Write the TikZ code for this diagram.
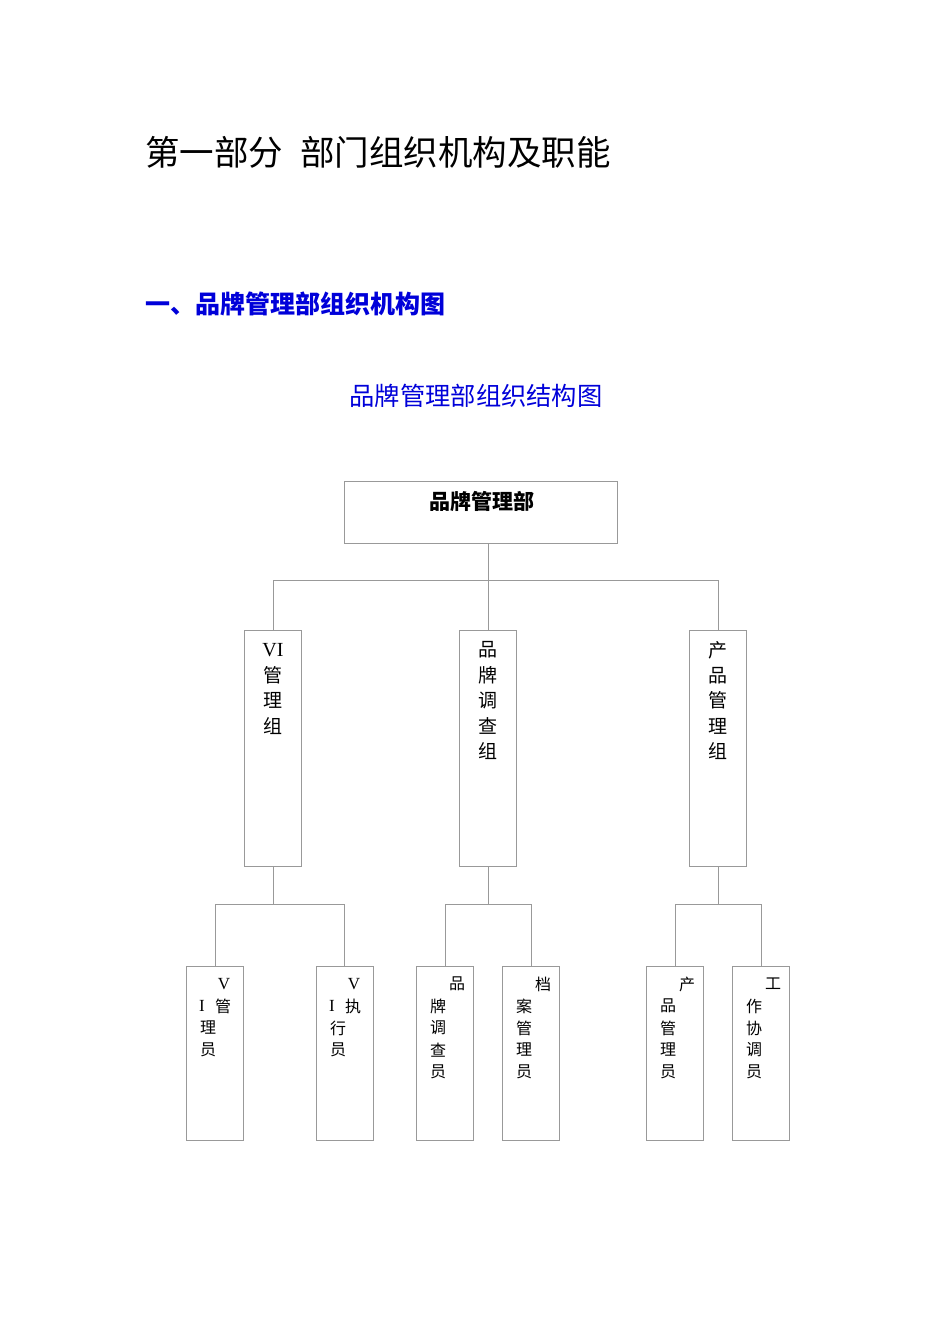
\documentclass[tikz,border=0pt]{standalone}
\usepackage{fontspec}
\setmainfont{Liberation Serif}
\newfontfamily\cjk{Noto Sans CJK SC}
\begin{document}
\begin{tikzpicture}[x=1pt,y=-1pt,
  bx/.style={draw=black!40,line width=0.7pt},
  ln/.style={draw=black!40,line width=0.7pt},
  t/.style={inner sep=0pt,font=\cjk\fontsize{19}{19}\selectfont},
  s/.style={inner sep=0pt,font=\cjk\fontsize{16}{16}\selectfont}]
\useasboundingbox (0,0) rectangle (950,1344);
\node[inner sep=0pt,anchor=west,font=\cjk\fontsize{34.5}{34.5}\selectfont] (title) at (145,152) {第一部分\hspace{0.5em}部门组织机构及职能};
\node[inner sep=0pt,anchor=west,text=blue!85!black,font=\cjk\bfseries\fontsize{25}{25}\selectfont] (h1) at (145,304) {一、品牌管理部组织机构图};
\node[inner sep=0pt,text=blue!85!black,font=\cjk\fontsize{25.3}{25.3}\selectfont] (h2) at (476,396) {品牌管理部组织结构图};
% top
\draw[bx] (344,481) rectangle (617,543);
\coordinate (topb) at (488,543);
\node[inner sep=0pt,font=\cjk\bfseries\fontsize{21}{21}\selectfont] (top) at (482,501) {品牌管理部};
\draw[ln] (topb) -- (488,580);
\draw[ln] (273,630) -- (273,580) -- (718,580) -- (718,630);
\draw[ln] (488,580) -- (488,630);
% middle boxes
\foreach \l/\c in {244/273,459/488,689/718}{
  \draw[bx] (\l,630) rectangle (\l+57,866);
  \draw[ln] (\c,866) -- (\c,904);
}
\node[t,font=\fontsize{20}{20}\selectfont] (m1a) at (273,650) {VI};
\foreach \ch [count=\i] in {管,理,组} \node[t] at (273,650+25.3*\i) {\ch};
\foreach \ch [count=\i from 0] in {品,牌,调,查,组} \node[t] at (488,650+25.3*\i) {\ch};
\foreach \ch [count=\i from 0] in {产,品,管,理,组} \node[t] at (718,650+25.3*\i) {\ch};
% second level connectors
\draw[ln] (215,966) -- (215,904) -- (344,904) -- (344,966);
\draw[ln] (445,966) -- (445,904) -- (531,904) -- (531,966);
\draw[ln] (675,966) -- (675,904) -- (761,904) -- (761,966);
% bottom boxes
\foreach \l in {186,316,416,502,646,732}{
  \draw[bx] (\l,966) rectangle (\l+57,1140);
}
% VI boxes
\foreach \l/\ch/\r in {186/管/理,316/执/行}{
  \node[s,font=\fontsize{17}{17}\selectfont] at (\l+38,984) {V};
  \node[s,font=\fontsize{17}{17}\selectfont] at (\l+16,1006) {I};
  \node[s] at (\l+37,1006) {\ch};
  \node[s] at (\l+22,1028) {\r};
  \node[s] at (\l+22,1050) {员};
}
\foreach \l/\f/\rest in {416/品/{牌,调,查,员},502/档/{案,管,理,员},646/产/{品,管,理,员},732/工/{作,协,调,员}}{
  \node[s] at (\l+41,984) {\f};
  \foreach \ch [count=\i] in \rest \node[s] at (\l+22,984+22*\i) {\ch};
}
\end{tikzpicture}
\end{document}
